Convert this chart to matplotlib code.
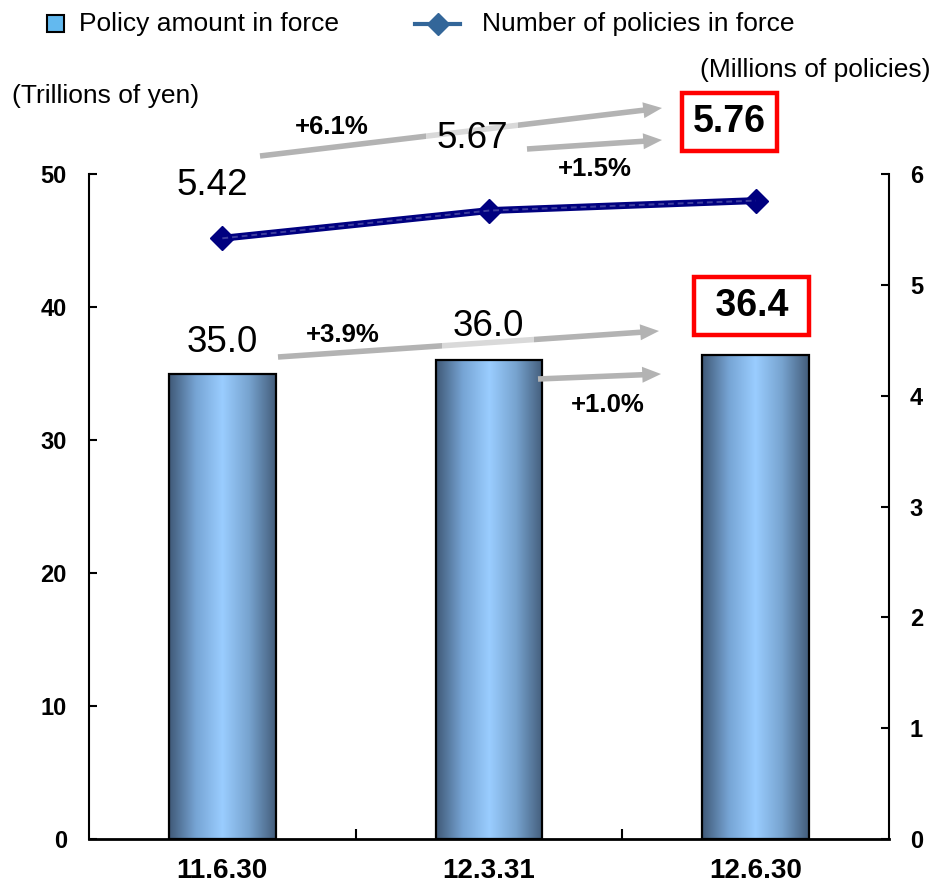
import numpy as np
import matplotlib
matplotlib.use("Agg")
import matplotlib.pyplot as plt
from matplotlib.colors import LinearSegmentedColormap
from matplotlib.lines import Line2D
from matplotlib.patches import Rectangle

plt.rcParams["font.family"] = ["Liberation Sans", "DejaVu Sans"]

# === Data ===
dates = ["11.6.30", "12.3.31", "12.6.30"]
amount = [35.0, 36.0, 36.4]          # trillions of yen
policies = [5.42, 5.67, 5.76]        # millions of policies
amount_growth = ["+3.9%", "+1.0%"]
policy_growth = ["+6.1%", "+1.5%"]

W, H = 935, 886


def fp(px, py):
    """pixel position (top-left origin) -> figure fraction"""
    return (px / W, 1 - py / H)


fig = plt.figure(figsize=(W / 100, H / 100), dpi=100)
ax = fig.add_axes([89 / W, 47 / H, 800 / W, 665 / H])
ax2 = ax.twinx()

x = np.arange(len(dates))

# bars with a horizontal "cylinder" gradient
bar_cmap = LinearSegmentedColormap.from_list(
    "bar", [(0, "#405977"), (0.25, "#76a4d4"), (0.5, "#9acdff"),
            (0.75, "#77a3cf"), (1, "#435d7b")])
bars = ax.bar(x, amount, width=0.4, facecolor="none", edgecolor="black",
              linewidth=1.6, zorder=3)
grad = np.linspace(0, 1, 256).reshape(1, -1)
for bar in bars:
    x0, w, h = bar.get_x(), bar.get_width(), bar.get_height()
    im = ax.imshow(grad, extent=(x0, x0 + w, 0, h), aspect="auto",
                   cmap=bar_cmap, zorder=2)
    im.set_clip_path(bar)

# policies line
ax2.plot(x, policies, color="#000080", lw=5, marker="D", ms=12,
         zorder=4, solid_joinstyle="round")
ax2.plot(x, policies, color="#3d3d9e", lw=1.4, ls=(0, (3, 2)), zorder=4)

# axes styling
ax.set_xlim(-0.5, 2.5)
ax.set_ylim(0, 50)
ax2.set_ylim(0, 6)

ax.spines["top"].set_visible(False)
ax.spines["right"].set_visible(False)
ax2.spines["top"].set_visible(False)
ax2.spines["left"].set_visible(False)
ax2.spines["bottom"].set_visible(False)
for sp in (ax.spines["left"], ax2.spines["right"]):
    sp.set_linewidth(1.5)
ax.spines["bottom"].set_linewidth(2)

ax.set_yticks(range(0, 51, 10), labels=[str(v) for v in range(0, 51, 10)],
              fontweight="bold", fontsize=17)
ax2.set_yticks(range(0, 7), labels=[str(v) for v in range(0, 7)],
               fontweight="bold", fontsize=17)
ax.tick_params(axis="y", direction="in", length=6, width=1.5, pad=16)
ax2.tick_params(axis="y", direction="in", length=6, width=1.5, pad=15)

ax.set_xticks(x, labels=dates, fontweight="bold", fontsize=20)
ax.set_xticks([0.5, 1.5], minor=True)
ax.tick_params(axis="x", which="major", length=0, pad=14)
ax.tick_params(axis="x", which="minor", direction="in", length=7, width=1.5)

# growth arrows (drawn below the value labels)
arrow_kw = dict(arrowstyle="simple,tail_width=0.4,head_width=1.15,head_length=1.35",
                mutation_scale=10, color="#b3b3b3", lw=0, shrinkA=0, shrinkB=0)
arrows = [((260, 156), (662, 108)), ((527, 149), (662, 140)),
          ((278, 357), (659, 331)), ((538, 379), (661, 374))]
for start, tip in arrows:
    ax2.annotate("", xy=fp(*tip), xycoords="figure fraction",
                 xytext=fp(*start), textcoords="figure fraction",
                 arrowprops=arrow_kw, annotation_clip=False, zorder=3)

# value labels
soft = dict(boxstyle="square,pad=0.28", fc="white", ec="none", alpha=0.5)
red = dict(boxstyle="square,pad=0.29", fc="white", ec="#ff0000", lw=3.2)

pol_offsets = [(-7, 38), (-12, 52)]
for i, (dx, dy) in enumerate(pol_offsets):
    ax2.annotate(f"{policies[i]:.2f}", xy=(x[i], policies[i]),
                 xytext=(dx, dy), textcoords="offset points",
                 ha="center", va="center", fontsize=26.5, bbox=soft,
                 annotation_clip=False, zorder=5)
ax2.annotate(f"{policies[-1]:.2f}", xy=(x[-1], policies[-1]),
             xytext=(-18.7, 56.5), textcoords="offset points",
             ha="center", va="center", fontsize=27, fontweight="bold",
             bbox=red, annotation_clip=False, zorder=5)

amt_offsets = [(0, 22.5), (-0.7, 24.3)]
for i, (dx, dy) in enumerate(amt_offsets):
    ax2.annotate(f"{amount[i]:.1f}", xy=(x[i], amount[i]), xycoords=ax.transData,
                 xytext=(dx, dy), textcoords="offset points",
                 ha="center", va="center", fontsize=26.5, bbox=soft,
                 annotation_clip=False, zorder=5)
ax2.annotate(f" {amount[-1]:.1f} ", xy=(x[-1], amount[-1]), xycoords=ax.transData,
             xytext=(-2.9, 35.3), textcoords="offset points",
             ha="center", va="center", fontsize=27, fontweight="bold",
             bbox=red, annotation_clip=False, zorder=5)

# growth percentages
pct_pos = [(332, 127), (595, 169), (343, 335), (608, 405)]
for txt, (px, py) in zip(policy_growth + amount_growth, pct_pos):
    fig.text(*fp(px, py), txt, ha="center", va="center",
             fontsize=18.5, fontweight="bold")

# unit labels
fig.text(*fp(12, 96), "(Trillions of yen)", ha="left", va="center", fontsize=19)
fig.text(*fp(931, 70), "(Millions of policies)", ha="right", va="center", fontsize=19)

# legend (drawn by hand to match the layout)
fig.add_artist(Rectangle(fp(47, 32), 17 / W, 17 / H, transform=fig.transFigure,
                         facecolor="#63b9ef", edgecolor="black", lw=1.5))
fig.text(*fp(79, 24), "Policy amount in force", ha="left", va="center", fontsize=19)
lx0, ly = fp(415, 24)
lx1, _ = fp(460, 24)
fig.add_artist(Line2D([lx0, lx1], [ly, ly], transform=fig.transFigure,
                      color="#336699", lw=3))
fig.add_artist(Line2D([(lx0 + lx1) / 2], [ly], transform=fig.transFigure,
                      color="#336699", marker="D", ms=11, lw=0))
fig.text(*fp(482, 24), "Number of policies in force", ha="left", va="center",
         fontsize=19)

fig.savefig("out.png", dpi=100)
